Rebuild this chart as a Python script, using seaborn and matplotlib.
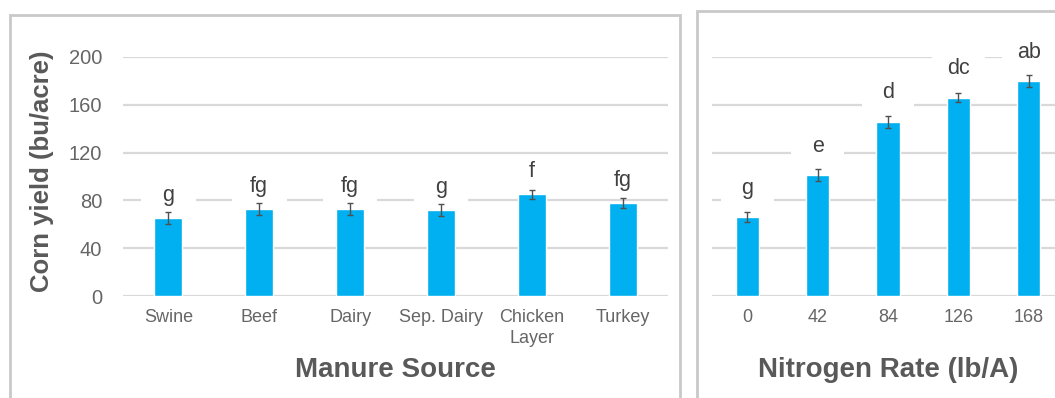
import matplotlib
matplotlib.use("Agg")
import matplotlib.pyplot as plt
from matplotlib.patches import Rectangle
import seaborn as sns
import pandas as pd

# Manure source panel
manure_sources = ['Swine', 'Beef', 'Dairy', 'Sep. Dairy', 'Chicken\nLayer', 'Turkey']
manure_yield = [65, 73, 73, 72, 85, 78]
manure_err = [5, 5, 5, 5, 4, 4]
manure_letters = ['g', 'fg', 'fg', 'g', 'f', 'fg']

# Nitrogen rate panel
n_rates = ['0', '42', '84', '126', '168']
n_yield = [66, 101, 146, 166, 180]
n_err = [4, 5, 5, 4, 5]
n_letters = ['g', 'e', 'd', 'dc', 'ab']

y_ticks = [0, 40, 80, 120, 160, 200]

sns.set_theme(style="white")
plt.rcParams['font.family'] = ['Liberation Sans', 'DejaVu Sans']

bar_color = '#00B0F0'
title_color = '#595959'
tick_color = '#666666'
W, H = 1055, 398

fig = plt.figure(figsize=(W / 100, H / 100), dpi=100)

# panel frames (Excel chart borders)
for x0, y0, x1 in [(10, 15, 680), (697, 11, 1070)]:
    fig.patches.append(Rectangle((x0 / W, -0.02), (x1 - x0) / W, (H - y0) / H + 0.02,
                                 transform=fig.transFigure, fill=False,
                                 edgecolor='#C9C9C9', linewidth=2))

ax1 = fig.add_axes([123 / W, (H - 296) / H, 545 / W, 239 / H])
ax2 = fig.add_axes([712 / W, (H - 296) / H, 352 / W, 239 / H])


def draw_panel(ax, cats, vals, errs, letters, xlabel, bar_w, offset, box_w):
    n = len(cats)
    df = pd.DataFrame({'cat': cats, 'val': vals})
    sns.barplot(data=df, x='cat', y='val', color=bar_color, saturation=1,
                width=bar_w, errorbar=None, ax=ax, zorder=3)
    ax.errorbar(range(n), vals, yerr=errs, fmt='none', ecolor='#505050',
                elinewidth=1, capsize=2.5, capthick=1, zorder=4)
    for i, (v, lab) in enumerate(zip(vals, letters)):
        y = v + offset
        # white label box that hides the gridline behind the letters
        ax.add_patch(Rectangle((i - box_w / 2, y - 13), box_w, 26, facecolor='white',
                               edgecolor='none', zorder=2, clip_on=False))
        ax.text(i, y, lab, ha='center', va='center', fontsize=15.5,
                color='#404040', zorder=5, clip_on=False)
    ax.set_xlim(-0.5, n - 0.5)
    ax.set_ylim(0, 200)
    ax.set_yticks(y_ticks)
    ax.yaxis.grid(True, color='#D9D9D9', linewidth=1.6, zorder=0)
    ax.set_axisbelow(True)
    for s in ax.spines.values():
        s.set_visible(False)
    ax.tick_params(axis='x', length=0, pad=9, labelsize=13, labelcolor=tick_color)
    ax.tick_params(axis='y', length=0, pad=15, labelsize=14.5, labelcolor=tick_color)
    for t in ax.get_xticklabels():
        t.set_linespacing(1.35)
    ax.set_xlabel(xlabel, fontsize=20, fontweight='bold', color=title_color, va='center')
    ax.xaxis.set_label_coords(0.5, -0.31)


draw_panel(ax1, manure_sources, manure_yield, manure_err, manure_letters,
           'Manure Source', 0.31, 19, 0.6)
ax1.set_ylabel('Corn yield (bu/acre)', fontsize=18.5, fontweight='bold',
               color=title_color, va='center')
ax1.yaxis.set_label_coords(-0.149, 0.523)

draw_panel(ax2, n_rates, n_yield, n_err, n_letters, 'Nitrogen Rate (lb/A)', 0.33, 24, 0.75)
ax2.set_ylabel('')
ax2.set_yticklabels([])

fig.savefig('out.png', dpi=100)
